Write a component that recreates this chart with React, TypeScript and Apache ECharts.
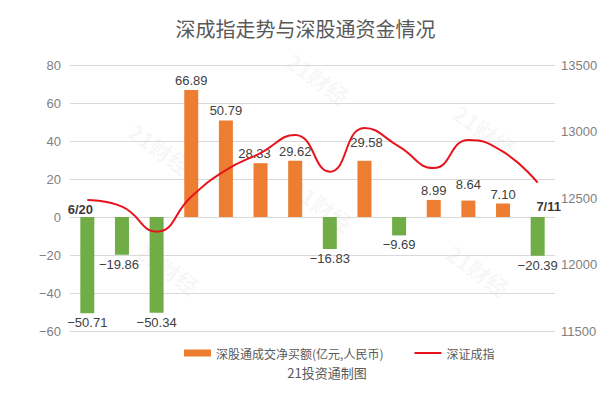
import React, { useEffect, useRef } from "react";
import * as echarts from "echarts";

const categories = ["6/20", "6/21", "6/24", "6/25", "6/26", "6/27", "6/28", "7/2", "7/3", "7/4", "7/5", "7/8", "7/9", "7/11"];
const netBuy = [-50.71, -19.86, -50.34, 66.89, 50.79, 28.33, 29.62, -16.83, 29.58, -9.69, 8.99, 8.64, 7.1, -20.39];
const szIndex = [12485, 12435, 12247, 12510, 12710, 12838, 12974, 12698, 13026, 12886, 12725, 12936, 12848, 12615];
const leftTicks = { min: -60, max: 80, interval: 20 };
const rightTicks = { min: 11500, max: 13500, interval: 500 };

const ORANGE = "#ED7D31";
const GREEN = "#70AD47";
const RED = "#E8141C";
const GREY = "#595959";
const FONT = "'Liberation Sans', 'Noto Sans CJK SC', sans-serif";
const CJK = "'Noto Sans CJK SC', sans-serif";

const labelOffsets: Record<number, number[]> = { 5: [-6, 0], 8: [2, -9], 11: [0, -7], 1: [-3, 0] };

const fmt = (v: number, d: number) => v.toFixed(d).replace("-", "\u2212");

export default function App() {
  const ref = useRef<HTMLDivElement>(null);
  useEffect(() => {
    if (!ref.current) return;
    const chart = echarts.init(ref.current, null, { renderer: "svg" });
    const last = categories.length - 1;
    const watermarks = [[318, 78], [160, 148], [322, 205], [168, 268], [485, 130], [478, 270]];
    chart.setOption({
      animation: false,
      textStyle: { fontFamily: FONT },
      title: {
        text: "深成指走势与深股通资金情况",
        left: "center",
        top: 13,
        textStyle: { fontSize: 20, fontWeight: "normal", color: GREY, fontFamily: CJK },
      },
      grid: { left: 70, right: 56, top: 65, bottom: 67, containLabel: false },
      legend: {
        data: [
          { name: "深股通成交净买额(亿元,人民币)", icon: "rect" },
          { name: "深证成指", itemStyle: { opacity: 0 } },
        ],
        top: 347,
        left: 184,
        padding: 0,
        itemGap: 30,
        itemWidth: 27,
        itemHeight: 7,
        textStyle: { fontSize: 12, lineHeight: 12, color: GREY, fontFamily: CJK },
      },
      xAxis: {
        type: "category",
        data: categories,
        axisLine: { show: false },
        axisTick: { show: false },
        axisLabel: { show: false },
      },
      yAxis: [
        {
          type: "value",
          ...leftTicks,
          axisLine: { show: false },
          axisTick: { show: false },
          axisLabel: { fontSize: 13, color: "#7F7F7F", margin: 9, formatter: (v: number) => fmt(v, 0) },
          splitLine: { lineStyle: { color: "#D9D9D9", width: 1 } },
        },
        {
          type: "value",
          ...rightTicks,
          axisLine: { show: false },
          axisTick: { show: false },
          axisLabel: { fontSize: 13, color: "#7F7F7F", margin: 6, formatter: (v: number) => String(v) },
          splitLine: { show: false },
        },
      ],
      graphic: [
        ...watermarks.map(([x, y]) => ({
          type: "text",
          x,
          y,
          rotation: -0.62,
          silent: true,
          z: 0,
          style: {
            text: "21财经",
            fontSize: 22,
            fontWeight: "bold",
            fill: "rgba(0,0,0,0.05)",
            align: "center",
            verticalAlign: "middle",
            fontFamily: CJK,
          },
        })),
        {
          type: "text",
          x: 327,
          y: 372,
          style: { text: "21投资通制图", fontSize: 13, lineHeight: 13, fill: GREY, fontFamily: CJK, align: "center", verticalAlign: "middle" },
        },
      ],
      series: [
        {
          name: "深股通成交净买额(亿元,人民币)",
          type: "bar",
          barWidth: 14,
          itemStyle: { color: ORANGE },
          data: netBuy.map((v, i) => ({
            value: v,
            itemStyle: { color: v >= 0 ? ORANGE : GREEN },
            label: { position: v >= 0 ? "top" : "bottom", offset: labelOffsets[i] || [0, 0] },
          })),
          label: {
            show: true,
            fontSize: 13,
            color: "#404040",
            distance: 3,
            formatter: (p: any) => fmt(p.value, 2),
          },
          z: 2,
        },
        {
          name: "深证成指",
          type: "line",
          yAxisIndex: 1,
          data: szIndex,
          smooth: 0.5,
          symbol: "none",
          lineStyle: { color: RED, width: 2 },
          itemStyle: { color: RED, opacity: 0 },
          z: 3,
        },
        {
          name: "dates",
          type: "scatter",
          symbolSize: 0,
          data: categories.map((c, i) => ({
            value: i === 0 || i === last ? 0 : "-",
            label: { offset: i === 0 ? [-7, 0] : [11, -3] },
          })),
          label: {
            show: true,
            position: "top",
            distance: 1,
            fontSize: 13,
            fontWeight: "bold",
            color: "#000",
            formatter: (p: any) => p.name,
          },
          z: 4,
        },
      ],
    });
    return () => chart.dispose();
  }, []);
  return <div ref={ref} style={{ width: 611, height: 398, position: "absolute", left: 0, top: 0 }} />;
}
